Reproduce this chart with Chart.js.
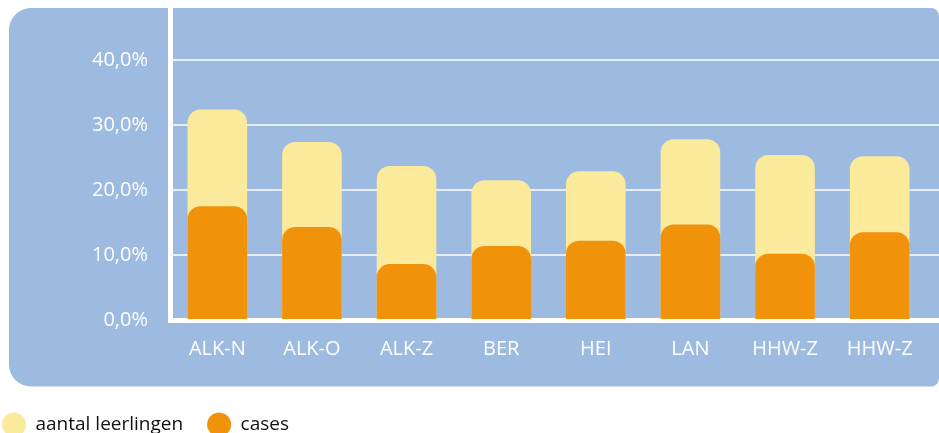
<!DOCTYPE html>
<html>
<head>
<meta charset="utf-8">
<script src="https://cdn.jsdelivr.net/npm/chart.js@4"></script>
<style>
  html, body { margin: 0; padding: 0; background: #fff; overflow: hidden; width: 939px; height: 433px; }
  #wrap { position: absolute; left: -22px; top: 0; width: 961px; height: 444px; }
</style>
</head>
<body>
<div id="wrap"><canvas id="chart" width="961" height="444"></canvas></div>
<script>
const scholen = ["ALK-N", "ALK-O", "ALK-Z", "BER", "HEI", "LAN", "HHW-Z", "HHW-Z"];
const aantalLeerlingen = [32.4, 27.4, 23.7, 21.5, 22.9, 27.8, 25.4, 25.2];
const cases = [17.5, 14.3, 8.6, 11.4, 12.2, 14.7, 10.2, 13.5];
const yTicks = [0, 10, 20, 30, 40];

const panelBlue = "#9dbae1";
const gridWhite = "rgba(255,255,255,0.75)";

function alignPx(v, w) {
  return Math.round(v - w / 2) + w / 2;
}

// rounded blue panel behind the plot
const panelPlugin = {
  id: "panel",
  beforeDraw(chart) {
    const ctx = chart.ctx;
    ctx.save();
    ctx.fillStyle = panelBlue;
    ctx.beginPath();
    ctx.roundRect(31, 8, 930, 378.5, [22, 8, 8, 22]);
    ctx.fill();
    ctx.restore();
  },
  // grid lines and x axis run on to the panel edge
  afterDraw(chart) {
    const ctx = chart.ctx;
    const area = chart.chartArea;
    const y = chart.scales.y;
    ctx.save();
    ctx.strokeStyle = gridWhite;
    ctx.lineWidth = 2;
    y.ticks.forEach(t => {
      if (t.value === 0) return;
      const py = alignPx(y.getPixelForValue(t.value), 2);
      ctx.beginPath();
      ctx.moveTo(area.right, py);
      ctx.lineTo(chart.width, py);
      ctx.stroke();
    });
    ctx.strokeStyle = "#fff";
    ctx.lineWidth = 5;
    const by = alignPx(area.bottom, 5);
    ctx.beginPath();
    ctx.moveTo(area.right, by);
    ctx.lineTo(chart.width, by);
    ctx.stroke();
    ctx.restore();
  }
};

const tickFont = { family: "'Open Sans'", size: 20 };

new Chart(document.getElementById("chart"), {
  type: "bar",
  data: {
    labels: scholen,
    datasets: [
      {
        label: "aantal leerlingen",
        data: aantalLeerlingen,
        backgroundColor: "#fbe99c",
        order: 1
      },
      {
        label: "cases",
        data: cases,
        backgroundColor: "#f0920a",
        order: 0
      }
    ]
  },
  options: {
    responsive: false,
    animation: false,
    layout: { padding: { top: 8, right: 12, left: 0, bottom: 0 } },
    datasets: {
      bar: {
        grouped: false,
        categoryPercentage: 1,
        barPercentage: 0.63,
        borderRadius: 13,
        borderWidth: 0
      }
    },
    plugins: {
      tooltip: { enabled: false },
      legend: {
        position: "bottom",
        align: "start",
        reverse: true,
        labels: {
          usePointStyle: true,
          pointStyle: "circle",
          boxHeight: 17,
          pointStyleWidth: 24,
          padding: 24,
          color: "#111",
          font: { family: "'Open Sans'", size: 19 }
        }
      }
    },
    scales: {
      x: {
        z: 1,
        grid: { display: false, drawTicks: false },
        border: { display: true, color: "#fff", width: 5 },
        ticks: { color: "#fff", font: tickFont, padding: 17, maxRotation: 0 },
        afterFit(scale) {
          scale.height = 71;
          scale.paddingLeft = 0;
          scale.paddingRight = 0;
        }
      },
      y: {
        z: 1,
        min: 0,
        max: 48,
        afterBuildTicks(scale) { scale.ticks = yTicks.map(v => ({ value: v })); },
        grid: {
          color: ctx => (ctx.tick && ctx.tick.value === 0 ? "rgba(0,0,0,0)" : gridWhite),
          lineWidth: 2,
          drawTicks: false
        },
        border: { display: true, color: "#fff", width: 5 },
        ticks: {
          color: "#fff",
          font: tickFont,
          padding: 22,
          callback: v => v.toFixed(1).replace(".", ",") + "%"
        },
        afterFit(scale) {
          scale.width = 192;
          scale.paddingTop = 0;
          scale.paddingBottom = 0;
        }
      }
    }
  },
  plugins: [panelPlugin]
});
</script>
</body>
</html>
